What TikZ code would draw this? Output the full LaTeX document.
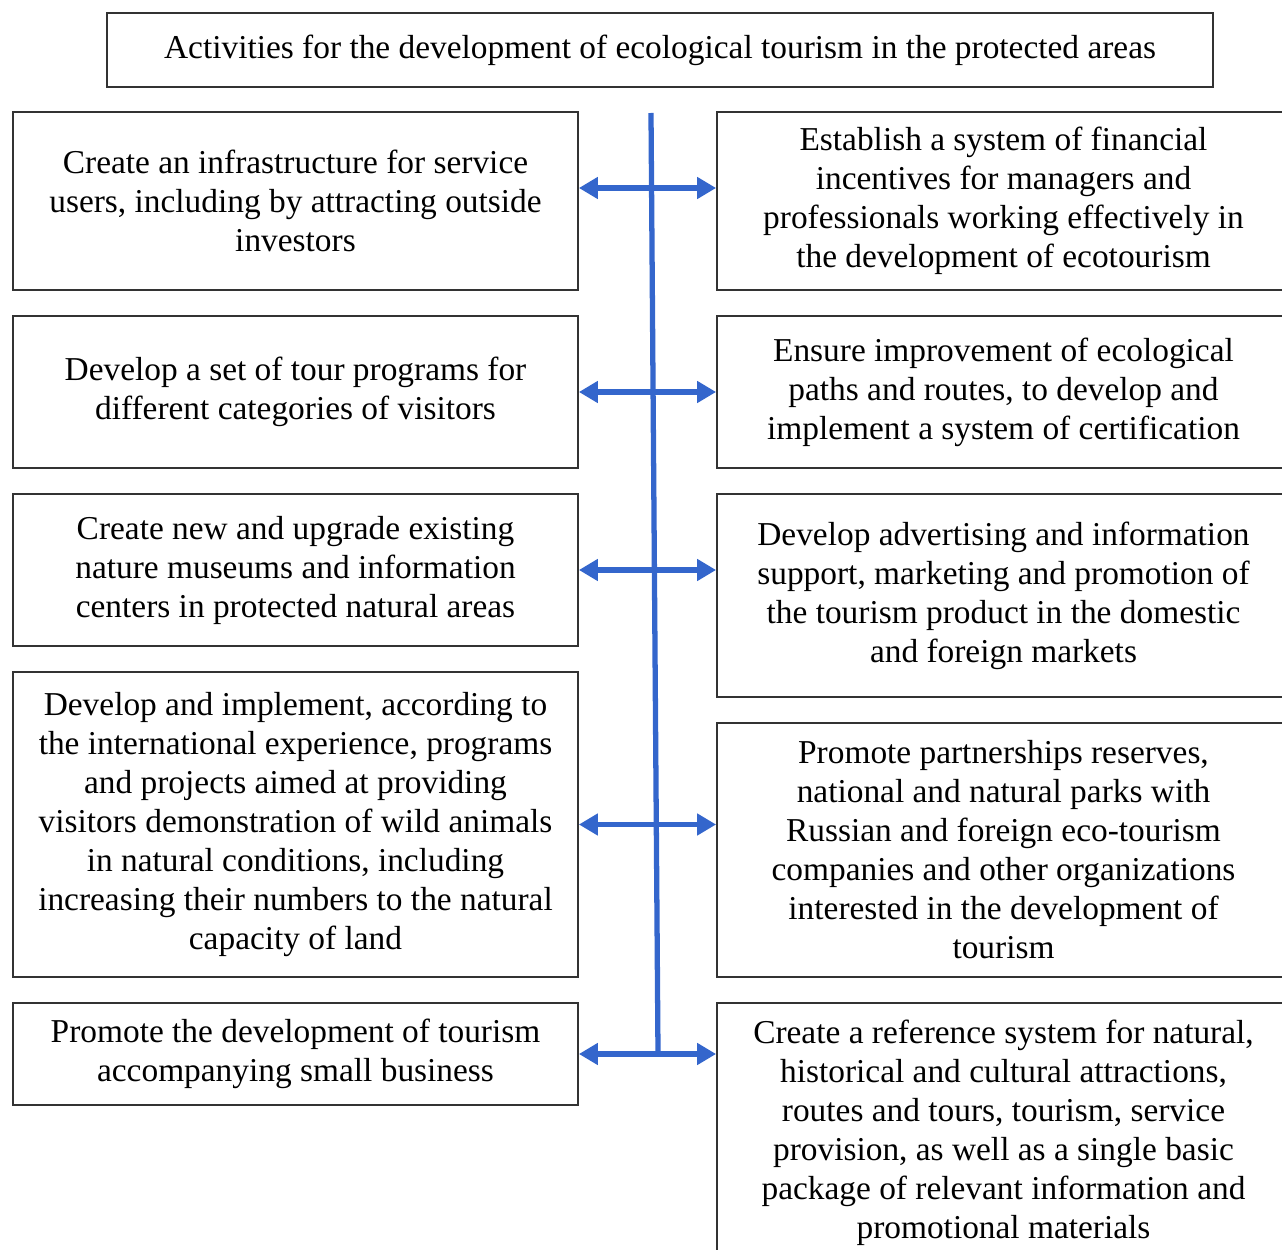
\documentclass[tikz,border=0pt]{standalone}
\usepackage{fontspec}
\setmainfont{Liberation Serif}
\usetikzlibrary{arrows.meta}
\definecolor{linkblue}{RGB}{52,102,204}
\tikzset{
  box/.style={draw=black!80,line width=1.1pt,align=center,inner sep=0pt,
    font=\fontsize{19}{22.2}\selectfont},
  leftbox/.style={box,minimum width=11.3cm},
  rightbox/.style={box,minimum width=11.46cm},
  link/.style={linkblue,line width=3pt,{Triangle[length=0.38cm,width=0.42cm]}-{Triangle[length=0.38cm,width=0.42cm]}},
  spine/.style={linkblue,line width=3pt}
}
\begin{document}
\begin{tikzpicture}[x=0.02cm,y=-0.02cm]
\useasboundingbox (0,0) rectangle (1282,1250);
\node[box,minimum width=22.12cm,minimum height=1.48cm] (title) at (660,50) {Activities for the development of ecological tourism in the protected areas};
\node[leftbox,minimum height=3.56cm] (left1) at (295.5,201) {Create an infrastructure for service\\ users, including by attracting outside\\ investors};
\node[leftbox,minimum height=3.04cm] (left2) at (295.5,392) {Develop a set of tour programs for\\ different categories of visitors};
\node[leftbox,minimum height=3.04cm] (left3) at (295.5,570) {Create new and upgrade existing\\ nature museums and information\\ centers in protected natural areas};
\node[leftbox,minimum height=6.1cm] (left4) at (295.5,824.5) {Develop and implement, according to\\ the international experience, programs\\ and projects aimed at providing\\ visitors demonstration of wild animals\\ in natural conditions, including\\ increasing their numbers to the natural\\ capacity of land};
\node[leftbox,minimum height=2.04cm] (left5) at (295.5,1054) {Promote the development of tourism\\ accompanying small business};
\node[rightbox,minimum height=3.56cm] (right1) at (1003.5,201) {Establish a system of financial\\ incentives for managers and\\ professionals working effectively in\\ the development of ecotourism};
\node[rightbox,minimum height=3.04cm] (right2) at (1003.5,392) {Ensure improvement of ecological\\ paths and routes, to develop and\\ implement a system of certification};
\node[rightbox,minimum height=4.06cm] (right3) at (1003.5,595.5) {Develop advertising and information\\ support, marketing and promotion of\\ the tourism product in the domestic\\ and foreign markets};
\node[rightbox,minimum height=5.08cm] (right4) at (1003.5,850) {Promote partnerships reserves,\\ national and natural parks with\\ Russian and foreign eco-tourism\\ companies and other organizations\\ interested in the development of\\ tourism};
\node[rightbox,minimum height=5.2cm] (right5) at (1003.5,1133) {Create a reference system for natural,\\ historical and cultural attractions,\\ routes and tours, tourism, service\\ provision, as well as a single basic\\ package of relevant information and\\ promotional materials};
\coordinate (spinetop) at (651,113);
\coordinate (spinebottom) at (658,1053);
\draw[spine] (spinetop) -- (spinebottom);
\draw[link] ([yshift=0.26cm]left1.east) -- ([yshift=0.26cm]left1.east -| right1.west);
\draw[link] (left2.east) -- (left2.east -| right2.west);
\draw[link] (left3.east) -- (left3.east -| right3.west);
\draw[link] (left4.east) -- (left4.east -| right4.west);
\draw[link] (left5.east) -- (left5.east -| right5.west);
\end{tikzpicture}
\end{document}
